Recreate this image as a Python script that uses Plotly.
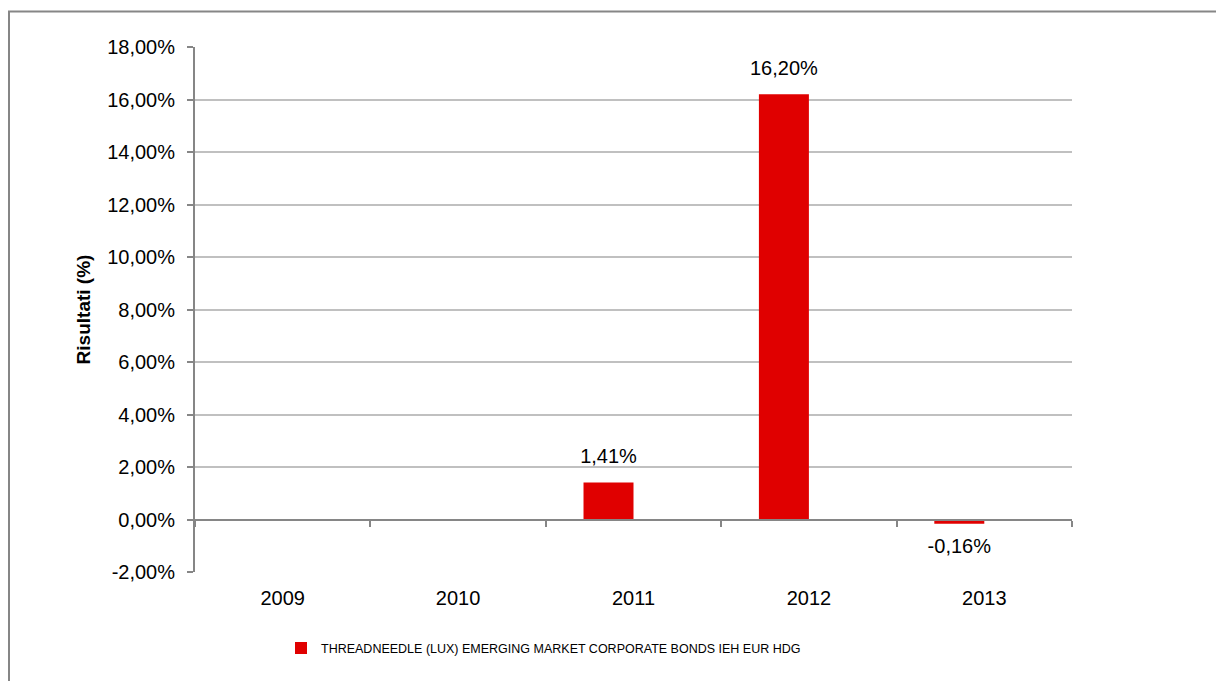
import plotly.graph_objects as go

years = ["2009", "2010", "2011", "2012", "2013"]
results = [None, None, 1.41, 16.20, -0.16]
series_name = "THREADNEEDLE (LUX) EMERGING MARKET CORPORATE BONDS IEH EUR HDG"
y_ticks = [-2, 0, 2, 4, 6, 8, 10, 12, 14, 16, 18]
y_tick_labels = [f"{v:.2f}%".replace(".", ",") for v in y_ticks]

# page body has an 8px margin, so the figure is drawn 8px smaller
OFF = 8
W, H = 1224 - OFF, 681 - OFF
L, R, T, B = 195 - OFF, 152, 47 - OFF, 109
pw, ph = W - L - R, H - T - B

FONT = "Liberation Sans, Arial, sans-serif"
BAR_W = 0.285  # bars sit in the left half of a two-slot group (second series is empty)

fig = go.Figure()
fig.add_trace(go.Bar(
    x=years, y=results, name=series_name,
    marker=dict(color="#e00000", line=dict(width=0)),
    width=BAR_W, offset=-BAR_W,
))

# data labels above / below the bars, on the linear overlay axis
fig.add_trace(go.Scatter(
    x=[i - BAR_W / 2 for i in range(len(years))], y=results, xaxis="x2",
    mode="markers+text", showlegend=False, hoverinfo="skip",
    marker=dict(size=21, opacity=0),
    text=[None if v is None else f"{v:.2f}%".replace(".", ",") for v in results],
    textposition=["bottom center" if (v is not None and v < 0) else "top center" for v in results],
    textfont=dict(size=20, color="#000000", family=FONT),
    cliponaxis=False,
))

fig.update_layout(
    width=W, height=H,
    margin=dict(l=L, r=R, t=T, b=B),
    paper_bgcolor="white", plot_bgcolor="white",
    font=dict(family=FONT, size=20, color="#000000"),
    showlegend=True,
    legend=dict(orientation="h", x=(281 - 195) / pw, xanchor="left", y=-0.117, yanchor="top",
                font=dict(size=12.5), itemwidth=30),
    xaxis=dict(type="category", categoryarray=years, range=[-0.5, 4.5],
               showline=False, ticks="", showgrid=False, ticklabelstandoff=12,
               tickfont=dict(size=20)),
    xaxis2=dict(overlaying="x", anchor="free", position=0.1, range=[-0.5, 4.5],
                tickvals=[i - 0.5 for i in range(len(years) + 1)], showticklabels=False,
                ticks="outside", ticklen=6, tickcolor="#868686", tickwidth=2,
                showline=True, linecolor="#868686", linewidth=2, showgrid=False,
                zeroline=False),
    yaxis=dict(range=[-2, 18], tickvals=y_ticks, ticktext=y_tick_labels,
               showgrid=True, gridcolor="#c0c0c0", gridwidth=1.5,
               showline=True, linecolor="#868686", linewidth=2,
               ticks="outside", ticklen=6, tickcolor="#868686", tickwidth=2,
               ticklabelstandoff=8,
               zeroline=False, tickfont=dict(size=20),
               title=dict(text="<b>Risultati (%)</b>", font=dict(size=19), standoff=12)),
)

# outer chart frame (runs past the right and bottom edge of the picture)
fig.add_shape(type="rect", xref="paper", yref="paper",
              x0=(9 - 195) / pw, x1=(1224 + 20 - 195) / pw,
              y0=(572 - (681 + 20)) / ph, y1=(572 - 11.5) / ph,
              line=dict(color="#868686", width=2), fillcolor="rgba(0,0,0,0)", layer="below")

fig.write_html("out.html")
